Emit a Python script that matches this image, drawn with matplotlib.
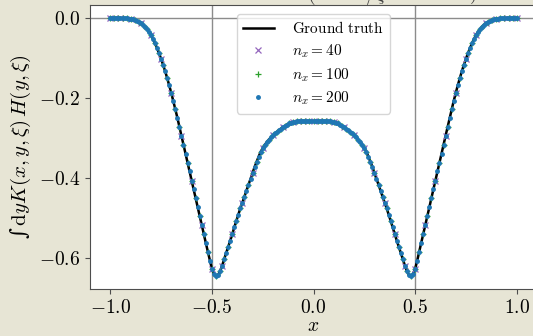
import matplotlib
matplotlib.use('Agg')
import matplotlib.pyplot as plt
import numpy as np
from matplotlib.ticker import FuncFormatter

plt.rcParams['mathtext.fontset'] = 'cm'
plt.rcParams['font.family'] = ['DejaVu Serif']

# right half of the curve, x = 0.00, 0.01, ..., 1.00 (curve is symmetric)
x_half = np.linspace(0.0, 1.0, 101)
y_half = [
    -0.258, -0.258, -0.258, -0.258, -0.258, -0.258, -0.258, -0.259, -0.259, -0.260,
    -0.261, -0.262, -0.264, -0.267, -0.270, -0.273, -0.277, -0.281, -0.285, -0.289,
    -0.294, -0.299, -0.305, -0.311, -0.318, -0.326, -0.335, -0.347, -0.360, -0.373,
    -0.388, -0.403, -0.417, -0.432, -0.447, -0.462, -0.476, -0.492, -0.508, -0.524,
    -0.541, -0.557, -0.573, -0.588, -0.604, -0.620, -0.634, -0.643, -0.646, -0.640,
    -0.628, -0.608, -0.585, -0.563, -0.541, -0.518, -0.496, -0.474, -0.451, -0.429,
    -0.407, -0.384, -0.362, -0.340, -0.317, -0.295, -0.273, -0.250, -0.229, -0.208,
    -0.188, -0.169, -0.151, -0.134, -0.118, -0.103, -0.089, -0.076, -0.064, -0.053,
    -0.043, -0.035, -0.028, -0.022, -0.017, -0.013, -0.010, -0.007, -0.005, -0.004,
    -0.003, -0.002, -0.001, -0.001, -0.001, 0.000, 0.000, 0.000, 0.000, 0.000,
    0.000,
]

x_all = np.concatenate([-x_half[:0:-1], x_half])
y_all = np.concatenate([np.array(y_half)[:0:-1], np.array(y_half)])

labels = [r'$\mathrm{Ground\ truth}$', r'$n_x = 40$', r'$n_x = 100$', r'$n_x = 200$']
xticks = [-1.0, -0.5, 0.0, 0.5, 1.0]
yticks = [0.0, -0.2, -0.4, -0.6]

bg = '#e7e5d5'
fig = plt.figure(figsize=(5.33, 3.36), dpi=100, facecolor=bg)
ax = fig.add_axes([0.1689, 0.1399, 0.8386, 0.8452])

ax.axhline(0, color='0.55', lw=1.0, zorder=1)
ax.axvline(-0.5, color='0.55', lw=1.0, zorder=1)
ax.axvline(0.5, color='0.55', lw=1.0, zorder=1)

ax.plot(x_all, y_all, 'k-', lw=1.8, label=labels[0], zorder=2)
ax.plot(x_all[::5], y_all[::5], 'x', color='tab:purple', ms=4, mew=0.9, label=labels[1], zorder=3)
ax.plot(x_all[::2], y_all[::2], '+', color='tab:green', ms=4, mew=0.9, label=labels[2], zorder=4)
ax.plot(x_all, y_all, '.', color='tab:blue', ms=5, label=labels[3], zorder=5)

ax.set_xlim(-1.1, 1.1)
ax.set_ylim(-0.678, 0.032)
ax.set_xticks(xticks)
ax.set_yticks(yticks)
fmt = FuncFormatter(lambda v, p: r'$%.1f$' % v if abs(v) > 1e-9 else r'$0.0$')
ax.xaxis.set_major_formatter(fmt)
ax.yaxis.set_major_formatter(fmt)
ax.tick_params(labelsize=14, color='0.3')
for s in ax.spines.values():
    s.set_color('0.3')

ax.set_xlabel(r'$x$', fontsize=14, labelpad=0)
ax.set_ylabel('\u222b' + r'$\,\mathrm{d}y K(x,y,\xi)\,H(y,\xi)$', fontsize=15)
ax.yaxis.set_label_coords(-0.128, 0.5)

leg = ax.legend(loc='upper center', fontsize=11, borderaxespad=0.6, labelspacing=0.4,
                handletextpad=1.2)

# partly cut-off slide text above the chart
fig.text(0.735, 1.0, r'$\left(\qquad\quad / \xi \qquad\qquad\quad\right)$', fontsize=14,
         ha='center', va='baseline', color='0.25')

fig.savefig('out.png', dpi=100, facecolor=bg)
